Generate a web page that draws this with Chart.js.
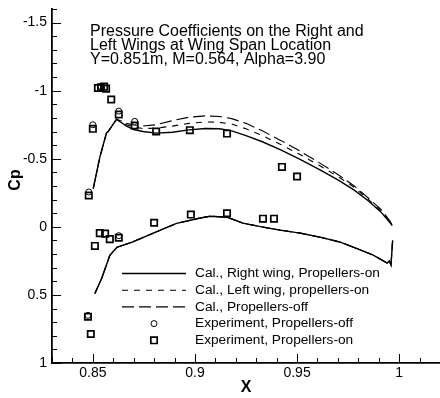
<!DOCTYPE html>
<html>
<head>
<meta charset="utf-8">
<script src="https://cdn.jsdelivr.net/npm/chart.js@4.4.1/dist/chart.umd.min.js"></script>
<style>
  html, body { margin: 0; padding: 0; background: #fff; overflow: hidden; }
  #wrap { width: 440px; height: 398px; position: relative; }
</style>
</head>
<body>
<div id="wrap"><canvas id="cpChart"></canvas></div>
<script>
// chord positions (upper surface) shared by the three calculations
const upperX = [0.8502, 0.8534, 0.8567, 0.8575, 0.8616, 0.8635, 0.8665, 0.8700, 0.8745, 0.8810,
  0.8890, 0.8970, 0.9050, 0.9120, 0.9180, 0.9250, 0.9330, 0.9420, 0.9510, 0.9610,
  0.9700, 0.9780, 0.9850, 0.9910, 0.9956, 0.9966];
const rightUpperCp = [-0.28, -0.51, -0.69, -0.70, -0.79, -0.77, -0.74, -0.715, -0.70, -0.688,
  -0.695, -0.712, -0.722, -0.72, -0.705, -0.67, -0.625, -0.565, -0.50, -0.42,
  -0.345, -0.27, -0.19, -0.11, -0.03, -0.01];
const leftUpperCp = [-0.28, -0.51, -0.69, -0.70, -0.79, -0.775, -0.75, -0.735, -0.722, -0.725,
  -0.74, -0.76, -0.77, -0.768, -0.755, -0.72, -0.67, -0.605, -0.535, -0.45,
  -0.37, -0.29, -0.20, -0.12, -0.035, -0.01];
const offUpperCp = [-0.28, -0.51, -0.69, -0.70, -0.79, -0.78, -0.76, -0.748, -0.74, -0.75,
  -0.78, -0.805, -0.815, -0.81, -0.795, -0.76, -0.705, -0.635, -0.56, -0.47,
  -0.385, -0.30, -0.21, -0.13, -0.04, -0.01];

// lower surface: the three calculations lie on top of each other
const lowerX = [0.8510, 0.8544, 0.8583, 0.8618, 0.8696, 0.8790, 0.8910, 0.9020, 0.9074, 0.9157,
  0.9235, 0.9333, 0.9417, 0.9515, 0.9613, 0.9711, 0.9775, 0.9873, 0.9941, 0.9952,
  0.9960, 0.9968];
const lowerCp = [0.49, 0.376, 0.21, 0.15, 0.11, 0.05, -0.025, -0.063, -0.078, -0.071,
  -0.027, 0.002, 0.024, 0.046, 0.076, 0.112, 0.149, 0.207, 0.266, 0.25,
  0.28, 0.10];

// experiment
const expOffX = [0.8480, 0.8500, 0.8540, 0.8627, 0.8705, 0.8476, 0.8627];
const expOffCp = [-0.256, -0.75, -1.03, -0.85, -0.775, 0.65, 0.065];
const expOnX = [0.8480, 0.8500, 0.8525, 0.8540, 0.8555, 0.8565, 0.8590, 0.8627, 0.8705, 0.8810,
  0.8975, 0.9157, 0.9426, 0.9500, 0.8476, 0.8490, 0.8510, 0.8534, 0.8560, 0.8583,
  0.8627, 0.8800, 0.8980, 0.9157, 0.9333, 0.9387];
const expOnCp = [-0.23, -0.72, -1.02, -1.025, -1.03, -1.015, -0.935, -0.825, -0.745, -0.70,
  -0.71, -0.685, -0.44, -0.37, 0.66, 0.787, 0.14, 0.046, 0.05, 0.09,
  0.08, -0.03, -0.09, -0.10, -0.06, -0.06];

const xTicks = [0.85, 0.9, 0.95, 1];
const yTicks = [-1.5, -1, -0.5, 0, 0.5, 1];
const titleLines = ['Pressure Coefficients on the Right and',
  'Left Wings at Wing Span Location',
  'Y=0.851m, M=0.564, Alpha=3.90'];

function pts(xs, ys) {
  return xs.map((x, i) => ({ x: x, y: ys[i] }));
}
// upper surface, a break, then lower surface
function curve(upper) {
  return pts(upperX, upper).concat([{ x: lowerX[0], y: null }], pts(lowerX, lowerCp));
}

const FONT = '"Liberation Sans", Arial, Helvetica, sans-serif';
Chart.defaults.font.family = FONT;
Chart.defaults.color = '#000';

const overlay = {
  id: 'overlay',
  afterDraw(chart) {
    const ctx = chart.ctx;
    const xs = chart.scales.x, ys = chart.scales.y;
    const a = chart.chartArea;
    ctx.save();
    ctx.strokeStyle = '#000';
    ctx.lineWidth = 1;
    // inward tick marks
    ctx.beginPath();
    for (let i = 83; i <= 102; i++) {
      const v = i / 100;
      const px = Math.round(xs.getPixelForValue(v)) + 0.5;
      const major = i % 5 === 0;
      ctx.moveTo(px, a.bottom);
      ctx.lineTo(px, a.bottom - (major ? 9 : 5));
    }
    for (let i = -16; i <= 10; i++) {
      const v = i / 10;
      const py = Math.round(ys.getPixelForValue(v)) + 0.5;
      const major = i % 5 === 0;
      ctx.moveTo(a.left, py);
      ctx.lineTo(a.left + (major ? 9 : 5), py);
    }
    ctx.stroke();

    // title inside the plot
    ctx.fillStyle = '#000';
    ctx.font = '16px ' + FONT;
    ctx.textAlign = 'left';
    ctx.textBaseline = 'alphabetic';
    titleLines.forEach((t, i) => ctx.fillText(t, 90, 35.5 + i * 14.4));

    // axis titles
    ctx.font = 'bold 16px ' + FONT;
    ctx.textAlign = 'center';
    ctx.textBaseline = 'middle';
    ctx.fillText('X', (a.left + a.right) / 2, 388);
    ctx.save();
    ctx.translate(16, 180);
    ctx.rotate(-Math.PI / 2);
    ctx.fillText('Cp', 0, 0);
    ctx.restore();

    // legend
    ctx.font = '13.7px ' + FONT;
    ctx.textAlign = 'left';
    chart.data.datasets.forEach((ds, i) => {
      const y = 273.5 + i * 16.7;
      ctx.strokeStyle = '#000';
      if (ds.showLine) {
        ctx.lineWidth = ds.borderWidth;
        ctx.setLineDash(ds.borderDash || []);
        ctx.beginPath();
        ctx.moveTo(122, y);
        ctx.lineTo(186, y);
        ctx.stroke();
        ctx.setLineDash([]);
      } else {
        ctx.lineWidth = ds.pointBorderWidth;
        ctx.beginPath();
        if (ds.pointStyle === 'rect') {
          const s = ds.pointRadius * Math.SQRT1_2;
          ctx.rect(154 - s, y - s, 2 * s, 2 * s);
        } else {
          ctx.arc(154, y, ds.pointRadius, 0, Math.PI * 2);
        }
        ctx.stroke();
      }
      ctx.fillText(ds.label, 195, y);
    });
    ctx.restore();
  }
};

new Chart(document.getElementById('cpChart'), {
  type: 'scatter',
  data: {
    datasets: [
      {
        label: 'Cal., Right wing, Propellers-on',
        data: curve(rightUpperCp),
        showLine: true, spanGaps: false,
        borderColor: '#000', borderWidth: 1.4,
        pointRadius: 0
      },
      {
        label: 'Cal., Left wing, propellers-on',
        data: curve(leftUpperCp),
        showLine: true, spanGaps: false,
        borderColor: '#000', borderWidth: 1.1, borderDash: [6, 6],
        pointRadius: 0
      },
      {
        label: 'Cal., Propellers-off',
        data: curve(offUpperCp),
        showLine: true, spanGaps: false,
        borderColor: '#000', borderWidth: 1.1, borderDash: [12, 5],
        pointRadius: 0
      },
      {
        label: 'Experiment, Propellers-off',
        data: pts(expOffX, expOffCp),
        showLine: false,
        pointStyle: 'circle', pointRadius: 3,
        pointBorderColor: '#000', pointBackgroundColor: 'rgba(0,0,0,0)',
        pointBorderWidth: 1
      },
      {
        label: 'Experiment, Propellers-on',
        data: pts(expOnX, expOnCp),
        showLine: false,
        pointStyle: 'rect', pointRadius: 4.5,
        pointBorderColor: '#000', pointBackgroundColor: 'rgba(0,0,0,0)',
        pointBorderWidth: 1.7
      }
    ]
  },
  options: {
    responsive: true,
    maintainAspectRatio: false,
    animation: false,
    layout: { autoPadding: false, padding: { top: 9, right: 0, left: 0, bottom: 0 } },
    plugins: {
      legend: { display: false },
      tooltip: { enabled: false }
    },
    scales: {
      x: {
        type: 'linear',
        min: 0.83, max: 1.02,
        afterBuildTicks: s => { s.ticks = xTicks.map(v => ({ value: v })); },
        afterFit: s => { s.height = 35; s.paddingLeft = 0; s.paddingRight = 0; },
        grid: { display: false, drawTicks: false },
        border: { display: true, color: '#000', width: 1.8 },
        ticks: { padding: 2, font: { size: 14 }, maxRotation: 0, callback: v => String(v) }
      },
      y: {
        type: 'linear',
        reverse: true,
        min: -1.6, max: 1,
        afterBuildTicks: s => { s.ticks = yTicks.map(v => ({ value: v })); },
        afterFit: s => { s.width = 52; s.paddingTop = 0; s.paddingBottom = 0; },
        grid: { display: false, drawTicks: false },
        border: { display: true, color: '#000', width: 1.8 },
        ticks: { padding: 5, font: { size: 14 }, callback: v => String(v) }
      }
    }
  },
  plugins: [overlay]
});
</script>
</body>
</html>
